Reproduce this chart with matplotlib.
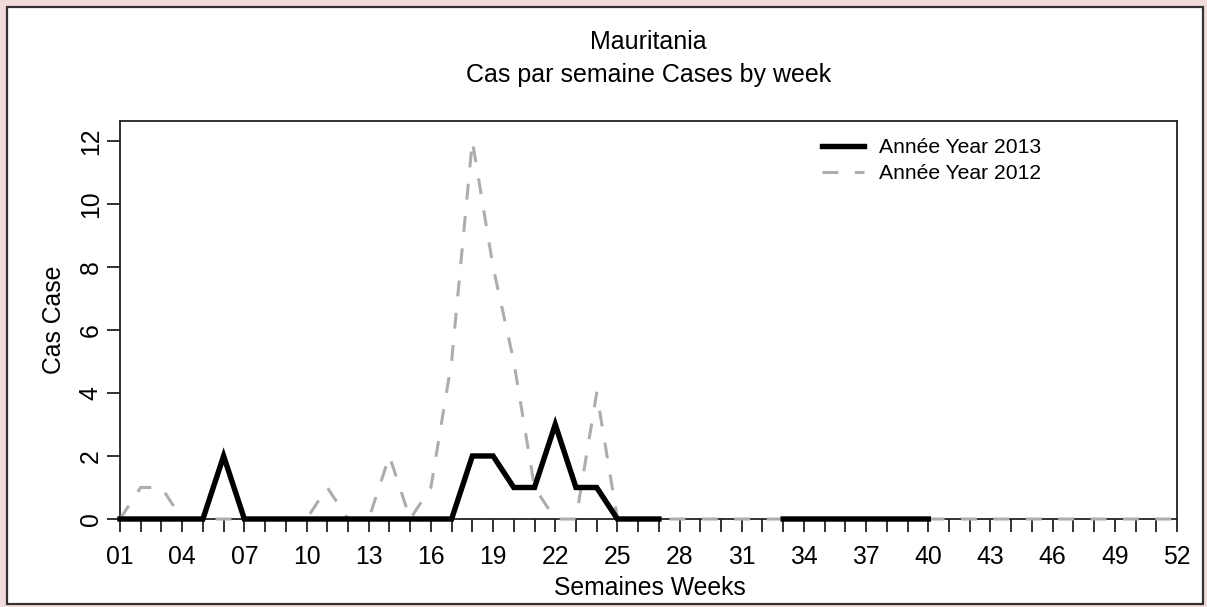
import matplotlib
matplotlib.use("Agg")
import matplotlib.pyplot as plt
import numpy as np
from matplotlib.patches import Rectangle

nan = np.nan

weeks = np.arange(1, 53)
cases_2013 = [0, 0, 0, 0, 0, 2, 0, 0, 0, 0,
              0, 0, 0, 0, 0, 0, 0, 2, 2, 1,
              1, 3, 1, 1, 0, 0, 0, nan, nan, nan,
              nan, nan, 0, 0, 0, 0, 0, 0, 0, 0,
              nan, nan, nan, nan, nan, nan, nan, nan, nan, nan,
              nan, nan]
cases_2012 = [0, 1, 1, 0, 0, 0, 0, 0, 0, 0,
              1, 0, 0, 2, 0, 1, 5, 12, 8, 5,
              1, 0, 0, 4, 0, 0, 0, 0, 0, 0,
              0, 0, 0, 0, 0, 0, 0, 0, 0, 0,
              0, 0, 0, 0, 0, 0, 0, 0, 0, 0,
              0, 0]
label_weeks = list(range(1, 53, 3))
y_ticks = [0, 2, 4, 6, 8, 10, 12]

W, H = 1207, 607
plt.rcParams['font.family'] = ['Liberation Sans', 'DejaVu Sans']
FS = 17.8

fig = plt.figure(figsize=(W / 100, H / 100), dpi=100)
fig.patch.set_facecolor('#f2dcdb')
# white panel with dark border, behind everything
fig.patches.append(Rectangle((7 / W, 3 / H), 1196 / W, 597 / H, transform=fig.transFigure,
                             facecolor='white', edgecolor='#333333', lw=1.6, zorder=-10))

ax = fig.add_axes([120 / W, 88 / H, 1057 / W, 398 / H])
ax.set_facecolor('none')

ax.plot(weeks, cases_2012, color='#adadad', lw=2.2, linestyle=(0, (5.2, 5.4)),
        label='Année Year 2012', zorder=3, clip_on=False)
ax.plot(weeks, cases_2013, color='black', lw=3.9, solid_joinstyle='miter',
        label='Année Year 2013', zorder=4, clip_on=False)

ax.set_xlim(1, 52)
ax.set_ylim(0, 12.63)

for s in ['left', 'top', 'right', 'bottom']:
    ax.spines[s].set_color('#222222')
    ax.spines[s].set_linewidth(1.3)

ax.set_xticks(weeks)
ax.set_xticklabels(['%02d' % w if w in label_weeks else '' for w in weeks])
ax.set_yticks(y_ticks)
ax.set_yticklabels([str(v) for v in y_ticks], rotation=90, va='center')
ax.tick_params(axis='both', direction='out', length=9.5, width=1.3, color='#222222',
               labelsize=FS)
ax.tick_params(axis='x', pad=9.5)
ax.tick_params(axis='y', pad=3)

fig.text(648.5 / W, 1 - 42 / H, 'Mauritania', ha='center', va='center', fontsize=18)
fig.text(648.5 / W, 1 - 75 / H, 'Cas par semaine Cases by week', ha='center', va='center',
         fontsize=18)
fig.text(650 / W, 1 - 588 / H, 'Semaines Weeks', ha='center', va='center', fontsize=FS)
fig.text(54 / W, 1 - 320 / H, 'Cas Case', ha='center', va='center', rotation=90,
         fontsize=FS)

h, l = ax.get_legend_handles_labels()
ax.legend(h[::-1], l[::-1], loc='upper left', bbox_to_anchor=(822 / W, 1 - 138 / H),
          bbox_transform=fig.transFigure, frameon=False, fontsize=15.2, borderpad=0,
          borderaxespad=0, handlelength=2.0, handletextpad=0.7, labelspacing=0.34)

fig.savefig('out.png', dpi=100, facecolor=fig.get_facecolor())
